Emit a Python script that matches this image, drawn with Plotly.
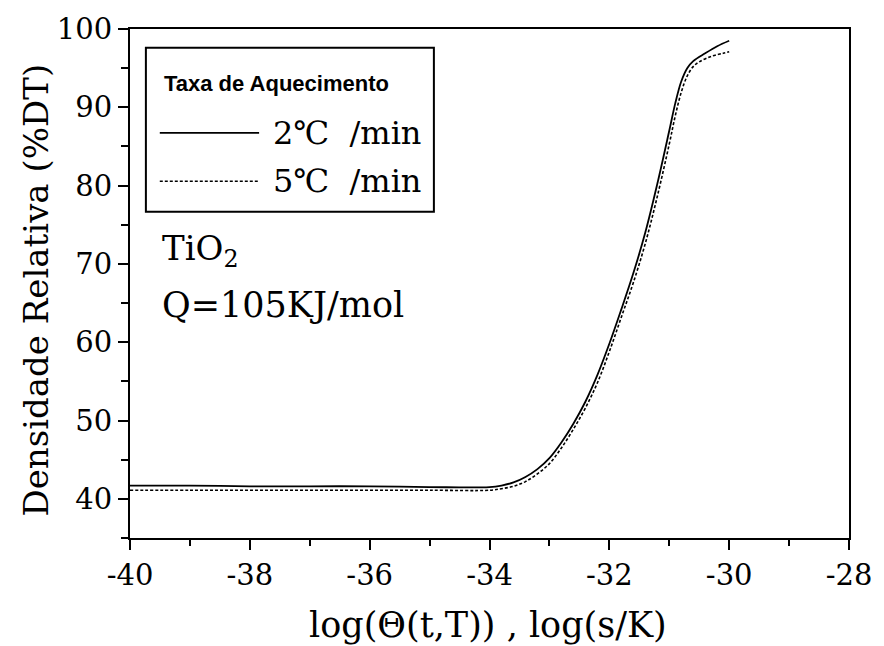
import plotly.graph_objects as go

# Data
x_2c = [-40.0, -39.0, -38.0, -37.0, -36.0, -35.0, -34.0, -33.8, -33.6, -33.4, -33.2, -33.0,
        -32.8, -32.6, -32.4, -32.2, -32.0, -31.8, -31.6, -31.4, -31.2, -31.0, -30.9, -30.8,
        -30.7, -30.6, -30.4, -30.2, -30.0]
y_2c = [41.7, 41.7, 41.6, 41.6, 41.6, 41.5, 41.5, 41.7, 42.1, 42.8, 43.8, 45.2,
        47.2, 49.6, 52.4, 55.8, 59.8, 64.2, 68.8, 74.0, 80.2, 87.0, 90.5, 93.3,
        95.0, 95.9, 96.9, 97.8, 98.5]

x_5c = [-40.0, -39.0, -38.0, -37.0, -36.0, -35.0, -34.0, -33.8, -33.6, -33.4, -33.2, -33.0,
        -32.8, -32.6, -32.4, -32.2, -32.0, -31.8, -31.6, -31.4, -31.2, -31.0, -30.9, -30.8,
        -30.7, -30.6, -30.5, -30.3, -30.1, -30.0]
y_5c = [41.1, 41.1, 41.1, 41.1, 41.1, 41.1, 41.1, 41.3, 41.6, 42.2, 43.2, 44.5,
        46.5, 48.9, 51.6, 54.8, 58.8, 63.2, 67.6, 72.6, 78.6, 85.3, 88.9, 91.9,
        94.0, 95.2, 95.8, 96.5, 96.9, 97.1]

x_ticks = [-40, -38, -36, -34, -32, -30, -28]
y_ticks = [40, 50, 60, 70, 80, 90, 100]

legend_title = "Taxa de Aquecimento"
series_names = ["2℃\u00a0\u00a0/min", "5℃\u00a0\u00a0/min"]

SERIF = "DejaVu Serif"

fig = go.Figure()
fig.add_trace(go.Scatter(x=x_2c, y=y_2c, mode="lines", name=series_names[0],
                         line=dict(color="black", width=1.8, shape="spline", smoothing=1.0)))
fig.add_trace(go.Scatter(x=x_5c, y=y_5c, mode="lines", name=series_names[1],
                         line=dict(color="black", width=1.6, dash="3px,2px", shape="spline", smoothing=1.0)))

axis_common = dict(
    showline=True, linecolor="black", linewidth=2, mirror=True,
    ticks="outside", ticklen=10, tickwidth=1.5, tickcolor="black",
    showgrid=False, zeroline=False,
    tickfont=dict(family=SERIF, size=29, color="black"),
)

fig.update_xaxes(range=[-40, -28], tickvals=x_ticks, ticktext=[str(v) for v in x_ticks],
                 minor=dict(ticks="outside", ticklen=6, dtick=1, tickcolor="black", tickwidth=1.5),
                 **axis_common)
fig.update_yaxes(range=[35, 100], tickvals=y_ticks, ticktext=[str(v) for v in y_ticks],
                 minor=dict(ticks="outside", ticklen=7, dtick=5, tick0=35, tickcolor="black", tickwidth=1.5),
                 **axis_common)

L, R, T, B = 130, 30, 23, 108
W, H = 884, 646
pw, ph = W - L - R, H - T - B

def px(x):
    return (x - L) / pw

def py(y):
    return (H - B - y) / ph

shapes = [
    dict(type="rect", xref="paper", yref="paper", x0=px(146), x1=px(436), y0=py(208), y1=py(42),
         line=dict(color="black", width=2), fillcolor="white", layer="above"),
    dict(type="line", xref="paper", yref="paper", x0=px(160), x1=px(260), y0=py(128), y1=py(128),
         line=dict(color="black", width=1.8)),
    dict(type="line", xref="paper", yref="paper", x0=px(160), x1=px(260), y0=py(177), y1=py(177),
         line=dict(color="black", width=1.6, dash="3px,2px")),
]

annotations = [
    dict(text="<b>" + legend_title + "</b>", x=px(162), y=py(78), xref="paper", yref="paper",
         xanchor="left", yanchor="middle", showarrow=False,
         font=dict(family="Liberation Sans", size=22, color="black")),
    dict(text=series_names[0], x=px(272), y=py(128), xref="paper", yref="paper",
         xanchor="left", yanchor="middle", showarrow=False,
         font=dict(family=SERIF, size=32, color="black")),
    dict(text=series_names[1], x=px(272), y=py(177), xref="paper", yref="paper",
         xanchor="left", yanchor="middle", showarrow=False,
         font=dict(family=SERIF, size=32, color="black")),
    dict(text="TiO<sub>2</sub>", x=px(160), y=py(247), xref="paper", yref="paper",
         xanchor="left", yanchor="middle", showarrow=False,
         font=dict(family=SERIF, size=34, color="black")),
    dict(text="Q=105KJ/mol", x=px(160), y=py(302), xref="paper", yref="paper",
         xanchor="left", yanchor="middle", showarrow=False,
         font=dict(family=SERIF, size=35, color="black")),
    dict(text="Densidade Relativa (%DT)", x=px(35), y=py(287), xref="paper", yref="paper",
         xanchor="center", yanchor="middle", textangle=-90, showarrow=False,
         font=dict(family=SERIF, size=34, color="black")),
    dict(text="log(Θ(t,T)) , log(s/K)", x=px(490), y=py(626), xref="paper", yref="paper",
         xanchor="center", yanchor="middle", showarrow=False,
         font=dict(family=SERIF, size=35, color="black")),
]

fig.update_layout(
    width=W, height=H,
    margin=dict(l=L, r=R, t=T, b=B),
    paper_bgcolor="white", plot_bgcolor="white",
    showlegend=False,
    shapes=shapes, annotations=annotations,
)

fig.write_html("out.html")
